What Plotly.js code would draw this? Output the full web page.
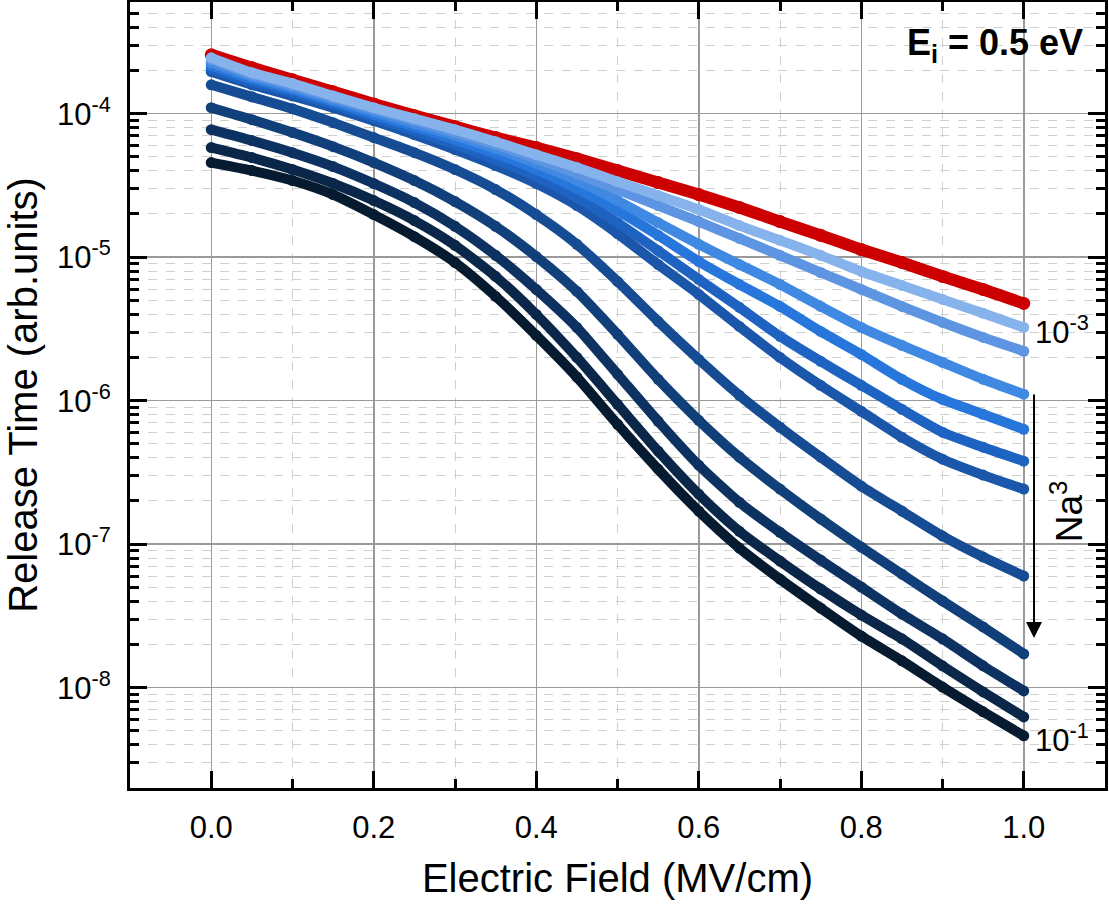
<!DOCTYPE html>
<html><head><meta charset="utf-8">
<script src="https://cdn.plot.ly/plotly-3.0.1.min.js"></script>
<style>html,body{margin:0;padding:0;background:#fff}#chart{width:1109px;height:907px}</style>
</head><body><div id="chart"></div>
<script>
// Electric field (MV/cm)
const field = [0, 0.05, 0.1, 0.15, 0.2, 0.25, 0.3, 0.35, 0.4, 0.45, 0.5, 0.55, 0.6, 0.65, 0.7, 0.75, 0.8, 0.85, 0.9, 0.95, 1.0];

// Release time (arb. units), red reference curve
const releaseRed = [2.57e-4, 2.09e-4, 1.72e-4, 1.42e-4, 1.17e-4, 9.69e-5, 8.12e-5, 6.81e-5, 5.80e-5, 4.86e-5, 4.01e-5, 3.31e-5, 2.73e-5, 2.22e-5, 1.77e-5, 1.42e-5, 1.13e-5, 9.18e-6, 7.34e-6, 5.96e-6, 4.76e-6];
// blue curves, Na^3 from 1e-3 (lightest) to 1e-1 (darkest)
const releaseB1 = [2.45e-4, 1.93e-4, 1.62e-4, 1.33e-4, 1.10e-4, 9.23e-5, 7.74e-5, 6.38e-5, 5.18e-5, 4.21e-5, 3.36e-5, 2.69e-5, 2.15e-5, 1.66e-5, 1.31e-5, 1.03e-5, 7.95e-6, 6.36e-6, 5.08e-6, 4.06e-6, 3.24e-6];
const releaseB2 = [2.38e-4, 1.87e-4, 1.57e-4, 1.29e-4, 1.07e-4, 8.94e-5, 7.38e-5, 6.09e-5, 4.86e-5, 3.82e-5, 2.96e-5, 2.29e-5, 1.77e-5, 1.35e-5, 1.03e-5, 7.82e-6, 5.96e-6, 4.54e-6, 3.51e-6, 2.76e-6, 2.21e-6];
const releaseB3 = [2.26e-4, 1.81e-4, 1.52e-4, 1.25e-4, 1.03e-4, 8.52e-5, 7.03e-5, 5.71e-5, 4.49e-5, 3.42e-5, 2.48e-5, 1.74e-5, 1.23e-5, 8.89e-6, 6.46e-6, 4.54e-6, 3.24e-6, 2.43e-6, 1.85e-6, 1.41e-6, 1.11e-6];
const releaseB4 = [2.16e-4, 1.75e-4, 1.47e-4, 1.21e-4, 9.84e-5, 8.12e-5, 6.59e-5, 5.27e-5, 4.08e-5, 3.01e-5, 2.11e-5, 1.42e-5, 9.33e-6, 6.46e-6, 4.54e-6, 3.04e-6, 2.10e-6, 1.41e-6, 1.02e-6, 8.04e-7, 6.32e-7];
const releaseB5 = [2.06e-4, 1.67e-4, 1.40e-4, 1.16e-4, 9.38e-5, 7.61e-5, 6.09e-5, 4.79e-5, 3.64e-5, 2.60e-5, 1.74e-5, 1.11e-5, 7.00e-6, 4.47e-6, 2.81e-6, 1.88e-6, 1.28e-6, 8.71e-7, 6.03e-7, 4.74e-7, 3.79e-7];
const releaseB6 = [1.96e-4, 1.59e-4, 1.33e-4, 1.10e-4, 8.94e-5, 7.14e-5, 5.62e-5, 4.35e-5, 3.26e-5, 2.29e-5, 1.46e-5, 8.89e-6, 5.50e-6, 3.29e-6, 2.00e-6, 1.28e-6, 8.44e-7, 5.56e-7, 3.91e-7, 3.03e-7, 2.42e-7];
const releaseB7 = [1.59e-4, 1.31e-4, 1.08e-4, 8.66e-5, 6.81e-5, 5.35e-5, 4.08e-5, 2.96e-5, 1.98e-5, 1.23e-5, 6.78e-6, 3.57e-6, 1.94e-6, 1.09e-6, 6.53e-7, 4.04e-7, 2.54e-7, 1.70e-7, 1.14e-7, 8.13e-8, 6.00e-8];
const releaseB8 = [1.10e-4, 9.08e-5, 7.38e-5, 5.89e-5, 4.56e-5, 3.42e-5, 2.44e-5, 1.64e-5, 1.01e-5, 5.77e-6, 2.90e-6, 1.41e-6, 7.30e-7, 4.04e-7, 2.42e-7, 1.50e-7, 9.54e-8, 6.19e-8, 4.02e-8, 2.65e-8, 1.72e-8];
const releaseB9 = [7.74e-5, 6.49e-5, 5.35e-5, 4.28e-5, 3.26e-5, 2.40e-5, 1.64e-5, 1.03e-5, 5.96e-6, 3.24e-6, 1.53e-6, 7.19e-7, 3.55e-7, 1.96e-7, 1.21e-7, 7.75e-8, 5.03e-8, 3.26e-8, 2.19e-8, 1.42e-8, 9.50e-9];
const releaseB10 = [5.80e-5, 4.94e-5, 4.08e-5, 3.26e-5, 2.48e-5, 1.80e-5, 1.21e-5, 7.34e-6, 3.99e-6, 2.00e-6, 9.44e-7, 4.45e-7, 2.23e-7, 1.23e-7, 7.63e-8, 4.87e-8, 3.21e-8, 2.19e-8, 1.42e-8, 9.35e-9, 6.26e-9];
const releaseB11 = [4.56e-5, 4.01e-5, 3.42e-5, 2.73e-5, 1.98e-5, 1.39e-5, 9.18e-6, 5.33e-6, 2.85e-6, 1.46e-6, 6.85e-7, 3.33e-7, 1.70e-7, 9.39e-8, 5.71e-8, 3.59e-8, 2.29e-8, 1.54e-8, 1.01e-8, 6.79e-9, 4.62e-9];

const blueSeries = [releaseB1, releaseB2, releaseB3, releaseB4, releaseB5, releaseB6, releaseB7, releaseB8, releaseB9, releaseB10, releaseB11];
const blueColors = ['#86B3EC', '#5D95E2', '#3F89E3', '#2676DC', '#1F63C2', '#1A57AA', '#164C93', '#113F7A', '#0D3262', '#0A2749', '#061A30'];
const redColor = '#CC0000';

const yTickVals = [1e-8, 1e-7, 1e-6, 1e-5, 1e-4];
const yTickText = ['10<sup>-8</sup>', '10<sup>-7</sup>', '10<sup>-6</sup>', '10<sup>-5</sup>', '10<sup>-4</sup>'];

const FONT = 'Liberation Sans, Arial, sans-serif';

const traces = [];
traces.push({
  x: field, y: releaseRed, type: 'scatter', mode: 'lines+markers',
  line: {color: redColor, width: 12, shape: 'spline', smoothing: 0.6},
  marker: {color: redColor, size: 13}, showlegend: false, hoverinfo: 'skip'
});
for (let i = blueSeries.length - 1; i >= 0; i--) {
  traces.push({
    x: field, y: blueSeries[i], type: 'scatter', mode: 'lines+markers',
    line: {color: blueColors[i], width: 10, shape: 'spline', smoothing: 0.6},
    marker: {color: blueColors[i], size: 11}, showlegend: false, hoverinfo: 'skip'
  });
}

const axisCommon = {
  showline: true, linecolor: '#000', linewidth: 3, mirror: 'allticks',
  ticks: 'inside', ticklen: 17, tickwidth: 3, tickcolor: '#000',
  showgrid: true, gridcolor: '#9a9a9a', gridwidth: 1.5, zeroline: false,
  tickfont: {family: FONT, size: 31, color: '#000'}
};

const layout = {
  width: 1109, height: 907,
  margin: {l: 130, r: 4, t: 2, b: 119},
  paper_bgcolor: '#fff', plot_bgcolor: '#fff',
  font: {family: FONT, color: '#000'},
  xaxis: Object.assign({}, axisCommon, {
    range: [-0.1, 1.1], tickmode: 'linear', tick0: 0, dtick: 0.2, tickformat: '.1f',
    ticklabelstandoff: 10,
    minor: {dtick: 0.1, tick0: 0, ticks: 'inside', ticklen: 9, tickwidth: 3, tickcolor: '#000',
            showgrid: true, gridcolor: '#cfcfcf', griddash: 'dash', gridwidth: 1},
    title: {text: 'Electric Field (MV/cm)', font: {family: FONT, size: 40, color: '#000'}, standoff: 20}
  }),
  yaxis: Object.assign({}, axisCommon, {
    type: 'log', range: [Math.log10(2e-9), Math.log10(6e-4)],
    tickmode: 'array', tickvals: yTickVals, ticktext: yTickText,
    ticklabelstandoff: 10,
    minor: {dtick: 'D1', ticks: 'inside', ticklen: 9, tickwidth: 3, tickcolor: '#000',
            showgrid: true, gridcolor: '#cfcfcf', griddash: 'dash', gridwidth: 1},
    title: {text: 'Release Time (arb.units)', font: {family: FONT, size: 40, color: '#000'}, standoff: 8}
  }),
  annotations: [
    {xref: 'paper', yref: 'paper', x: 0.979, y: 0.945, xanchor: 'right', yanchor: 'middle', showarrow: false,
     text: '<b>E<sub>i</sub> = 0.5 eV</b>', font: {family: FONT, size: 36, color: '#000'}},
    {xref: 'paper', yref: 'paper', x: 0.926, y: 0.583, xanchor: 'left', yanchor: 'middle', showarrow: false,
     text: '10<sup>-3</sup>', font: {family: FONT, size: 31, color: '#000'}},
    {xref: 'paper', yref: 'paper', x: 0.926, y: 0.0636, xanchor: 'left', yanchor: 'middle', showarrow: false,
     text: '10<sup>-1</sup>', font: {family: FONT, size: 31, color: '#000'}},
    {xref: 'paper', yref: 'paper', x: 0.961, y: 0.352, xanchor: 'center', yanchor: 'middle', showarrow: false,
     textangle: -90, text: 'Na<sup>3</sup>', font: {family: FONT, size: 37, color: '#000'}},
    {xref: 'paper', yref: 'paper', x: 0.9272, y: 0.1908, showarrow: true, text: '',
     ax: 0, ay: -245, arrowhead: 2, arrowsize: 1.6, arrowwidth: 2, arrowcolor: '#000', standoff: 0}
  ]
};

Plotly.newPlot('chart', traces, layout, {displayModeBar: false, staticPlot: true});
</script>
</body></html>
